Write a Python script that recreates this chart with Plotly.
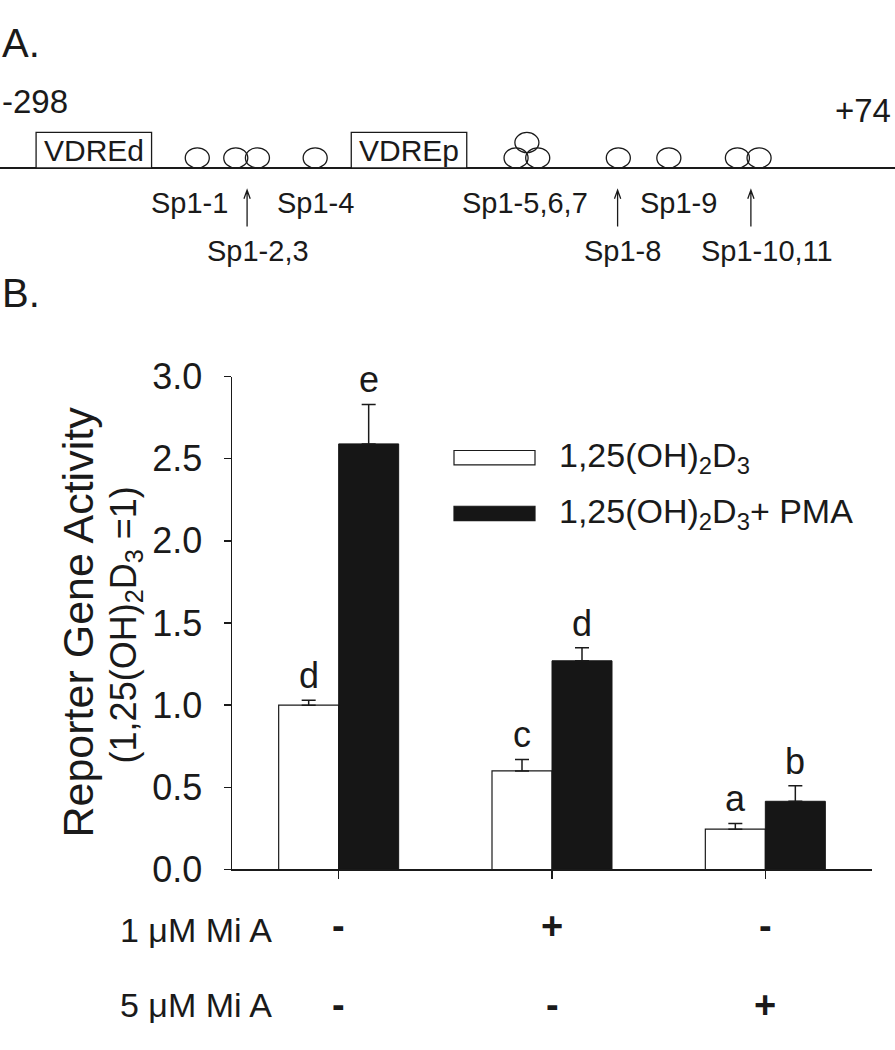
import plotly.graph_objects as go

W, H = 895, 1050
FONT = "Liberation Sans, Arial, sans-serif"
INK = "#1a1a1a"

# ---------------- Panel B data ----------------
groups = [0, 1, 2]
vd3 = [1.00, 0.60, 0.245]
vd3_err = [0.03, 0.07, 0.035]
vd3_pma = [2.59, 1.27, 0.415]
vd3_pma_err = [0.24, 0.08, 0.095]
letters_vd3 = ["d", "c", "a"]
letters_pma = ["e", "d", "b"]
mi_1uM = ["-", "+", "-"]
mi_5uM = ["-", "-", "+"]
row_labels = ["1 \u03bcM Mi A", "5 \u03bcM Mi A"]
yticks = [0.0, 0.5, 1.0, 1.5, 2.0, 2.5, 3.0]
legend_names = ["1,25(OH)<sub>2</sub>D<sub>3</sub>", "1,25(OH)<sub>2</sub>D<sub>3</sub>+ PMA"]

# ---------------- Panel A schematic (bp) ----------------
prom_start, prom_end = -298, 74
vdre_names = ["VDREd", "VDREp"]
vdre_start = [-283, -152]
vdre_end = [-235, -104]
sp1_pos = [-216, -200, -191, -167, -83.5, -74.5, -79, -41, -20, 8.5, 17.5]
sp1_level = [0, 0, 0, 0, 0, 0, 1, 0, 0, 0, 0]
sp1_text = ["Sp1-1", "Sp1-2,3", "Sp1-4", "Sp1-5,6,7", "Sp1-8", "Sp1-9", "Sp1-10,11"]
sp1_text_pos = [-219.4, -190.6, -166.9, -79.8, -39.1, -16.0, 20.6]
sp1_text_row = [0, 1, 0, 0, 1, 0, 1]
arrow_pos = [-195.3, -41.3, 14.1]


def px(xp):
    return xp / W


def py(yp):
    return 1 - yp / H


BW = 0.28125

fig = go.Figure()

fig.add_trace(go.Bar(
    x=groups, y=vd3, width=BW, offset=-BW, name="vd3", showlegend=False,
    marker=dict(color="white", line=dict(color=INK, width=1.2)),
    error_y=dict(type="data", symmetric=False, array=vd3_err, arrayminus=[0] * 3,
                 color=INK, thickness=1.5, width=7),
    xaxis="x", yaxis="y", cliponaxis=False))
fig.add_trace(go.Bar(
    x=groups, y=vd3_pma, width=BW, offset=0, name="pma", showlegend=False,
    marker=dict(color="#161616", line=dict(color="#161616", width=1)),
    error_y=dict(type="data", symmetric=False, array=vd3_pma_err, arrayminus=[0] * 3,
                 color=INK, thickness=1.5, width=7),
    xaxis="x", yaxis="y", cliponaxis=False))

# promoter line (schematic)
fig.add_trace(go.Scatter(x=[prom_start, prom_end], y=[154, 154], mode="lines",
                         line=dict(color=INK, width=2), showlegend=False,
                         hoverinfo="skip", xaxis="x2", yaxis="y2"))

ann = []
shapes = []

# letters above bars
for g, v, e, t in zip(groups, vd3, vd3_err, letters_vd3):
    ann.append(dict(x=g - BW / 2, y=v + e, xref="x", yref="y", text=t, showarrow=False,
                    yanchor="bottom", yshift=2, font=dict(size=36, family=FONT, color=INK)))
for g, v, e, t in zip(groups, vd3_pma, vd3_pma_err, letters_pma):
    ann.append(dict(x=g + BW / 2, y=v + e, xref="x", yref="y", text=t, showarrow=False,
                    yanchor="bottom", yshift=2, font=dict(size=36, family=FONT, color=INK)))

# treatment rows
for row, yy in zip([mi_1uM, mi_5uM], [943, 1025]):
    for g, s in zip(groups, row):
        ann.append(dict(x=g, y=py(yy), xref="x", yref="paper", text="<b>%s</b>" % s,
                        showarrow=False, yanchor="middle",
                        font=dict(size=38, family=FONT, color=INK)))
for lab, yy in zip(row_labels, [947, 1025]):
    ann.append(dict(x=px(274), y=py(yy), xref="paper", yref="paper", text=lab,
                    showarrow=False, xanchor="right", yanchor="middle",
                    font=dict(size=34, family=FONT, color=INK)))

# y-axis titles
ann.append(dict(x=px(52), y=py(627), xref="paper", yref="paper", text="Reporter Gene Activity",
                textangle=-90, showarrow=False, font=dict(size=43, family=FONT, color=INK)))
ann.append(dict(x=px(101), y=py(630), xref="paper", yref="paper",
                text="(1,25(OH)<sub>2</sub>D<sub>3</sub> =1)",
                textangle=-90, showarrow=False, font=dict(size=36, family=FONT, color=INK)))

# legend
for i, (name, yc) in enumerate(zip(legend_names, [455.5, 513.5])):
    shapes.append(dict(type="rect", xref="paper", yref="paper",
                       x0=px(454), x1=px(535), y0=py(yc - 7.5), y1=py(yc + 7.5),
                       fillcolor="white" if i == 0 else "#161616",
                       line=dict(color=INK, width=1.2)))
    ann.append(dict(x=px(557), y=py(yc), xref="paper", yref="paper", text=name,
                    showarrow=False, xanchor="left", yanchor="middle",
                    font=dict(size=34, family=FONT, color=INK)))

# panel letters and ends
ann.append(dict(x=0, y=py(24), xref="paper", yref="paper", text="A.", showarrow=False,
                xanchor="left", yanchor="middle", font=dict(size=40, family=FONT, color=INK)))
ann.append(dict(x=0, y=py(284), xref="paper", yref="paper", text="B.", showarrow=False,
                xanchor="left", yanchor="middle", font=dict(size=40, family=FONT, color=INK)))
ann.append(dict(x=0, y=py(85), xref="paper", yref="paper", text=str(prom_start), showarrow=False,
                xanchor="left", yanchor="middle", font=dict(size=33, family=FONT, color=INK)))
ann.append(dict(x=px(893), y=py(94), xref="paper", yref="paper", text="+%d" % prom_end,
                showarrow=False, xanchor="right", yanchor="middle",
                font=dict(size=33, family=FONT, color=INK)))

# VDRE boxes
for n, a, b in zip(vdre_names, vdre_start, vdre_end):
    shapes.append(dict(type="rect", xref="x2", yref="y2", x0=a, x1=b, y0=117, y1=154,
                       fillcolor="white", line=dict(color=INK, width=1.3)))
    ann.append(dict(x=(a + b) / 2, y=136, xref="x2", yref="y2", text=n, showarrow=False,
                    yanchor="middle", font=dict(size=30, family=FONT, color=INK)))

# Sp1 sites
RX, RY = 5.0, 10.5
for p, lv in zip(sp1_pos, sp1_level):
    cy = 143.5 - lv * 16
    shapes.append(dict(type="circle", xref="x2", yref="y2", x0=p - RX, x1=p + RX,
                       y0=cy - RY, y1=cy + RY, fillcolor="rgba(0,0,0,0)",
                       line=dict(color=INK, width=1.3)))

for t, p, r in zip(sp1_text, sp1_text_pos, sp1_text_row):
    ann.append(dict(x=p, y=190 + 50 * r, xref="x2", yref="y2", text=t, showarrow=False,
                    yanchor="middle", font=dict(size=29, family=FONT, color=INK)))

for p in arrow_pos:
    shapes.append(dict(type="path", xref="x2", yref="y2",
                       path="M %f,215 L %f,177 M %f,186 L %f,177 L %f,186" % (p, p, p - 1.3, p, p + 1.3),
                       line=dict(color=INK, width=1.3)))

fig.update_layout(
    width=W, height=H, margin=dict(l=0, r=0, t=0, b=0, pad=0),
    paper_bgcolor="white", plot_bgcolor="rgba(0,0,0,0)",
    barmode="overlay", showlegend=False,
    font=dict(family=FONT, color=INK),
    xaxis=dict(domain=[px(232), px(872)], range=[-0.5, 2.5], anchor="y",
               showline=True, linecolor=INK, linewidth=1.5, ticks="outside", ticklen=8,
               tickcolor=INK, tickwidth=1.5, tickvals=groups, showticklabels=False,
               showgrid=False, zeroline=False, fixedrange=True),
    yaxis=dict(domain=[py(884), py(371)], range=[0, 3], anchor="x",
               showline=True, linecolor=INK, linewidth=1.5, ticks="outside", ticklen=7,
               tickcolor=INK, tickwidth=1.5, tickvals=yticks,
               ticktext=["%.1f" % v for v in yticks], ticklabelstandoff=14,
               tickfont=dict(size=36, family=FONT, color=INK),
               showgrid=False, zeroline=False, fixedrange=True),
    xaxis2=dict(domain=[0, 1], range=[prom_start, prom_end], anchor="y2", visible=False),
    yaxis2=dict(domain=[py(300), 1], range=[300, 0], anchor="x2", visible=False),
    annotations=ann, shapes=shapes,
)

fig.write_html(
    "out.html",
    config={"displayModeBar": False, "staticPlot": True},
    post_script="document.body.style.margin='0px';document.body.style.padding='0px';"
                "document.documentElement.style.overflow='hidden';",
)
